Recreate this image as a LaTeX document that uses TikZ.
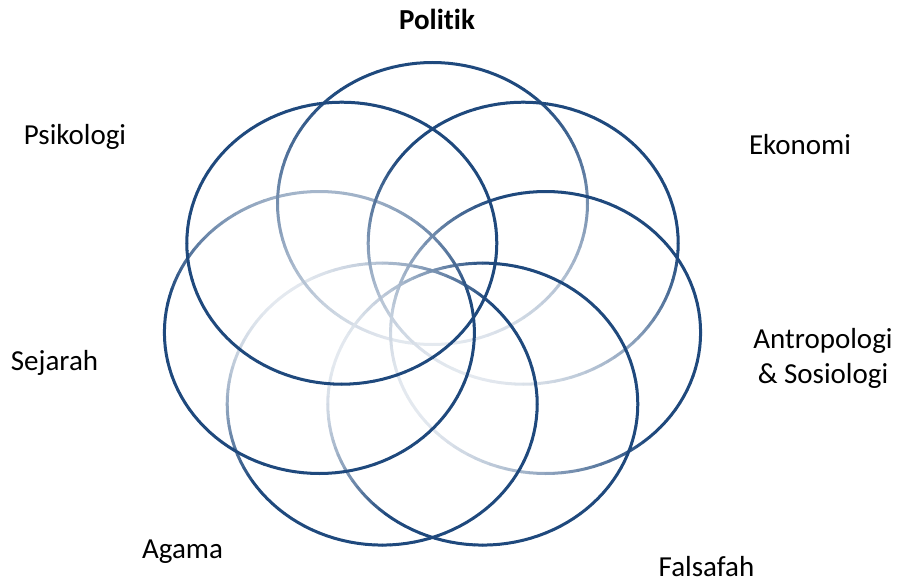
\documentclass[tikz,border=0pt]{standalone}
\usepackage{fontspec}
\setmainfont{Carlito}[Ligatures=NoCommon]
\definecolor{ringblue}{HTML}{1F497D}
\tikzset{
  ringseg/.style={line width=3pt, line cap=round},
  lbl/.style={font=\fontsize{29}{35}\selectfont, inner sep=0pt, anchor=base, text=black},
}
\begin{document}
\begin{tikzpicture}[x=1pt,y=-1pt]
\useasboundingbox (0,0) rectangle (897,583);
% ellipses: centre x / centre y / dark-side angle / start of fade / faintest mix
\foreach \bn in {1,...,10}{
  \foreach \cx/\cy/\ph/\pz/\mn in {
      432.5/203.5/90/0.8/12,    % Politik
      523.2/243.2/70/0.3/12,    % Ekonomi
      545.6/332.5/30/0.2/12,    % Antropologi
      482.8/404.1/-20/-0.3/12,  % Falsafah
      382.2/404.1/-50/-0.1/12,  % Agama
      319.4/332.5/-90/-0.25/40, % Sejarah
      341.8/243.2/150/0/100}{   % Psikologi
    \foreach \t in {0,3,...,357}{
      \pgfmathsetmacro\pp{cos(\t+1.5-(\ph))}
      \pgfmathsetmacro\mm{min(100,\mn+(100-\mn)*(\pp+1)/(\pz+1))}
      \pgfmathtruncatemacro\bb{min(10,max(1,ceil(\mm/10)))}
      \ifnum\bb=\bn
        \draw[ringseg, draw=ringblue!\mm!white]
          ({\cx+155*cos(\t)},{\cy-141*sin(\t)}) -- ({\cx+155*cos(\t+3)},{\cy-141*sin(\t+3)});
      \fi
    }
  }
}
\node[lbl, font=\fontsize{29}{35}\selectfont\bfseries] (politik) at (437,30) {Politik};
\node[lbl] (psikologi) at (75,145) {Psikologi};
\node[lbl] (ekonomi) at (800,155) {Ekonomi};
\node[lbl] (antropologi) at (823,348) {\begin{tabular}[t]{@{}c@{}}Antropologi\\\& Sosiologi\end{tabular}};
\node[lbl] (sejarah) at (54.5,370) {Sejarah};
\node[lbl] (agama) at (182.5,558) {Agama};
\node[lbl] (falsafah) at (706.5,576) {Falsafah};
\end{tikzpicture}
\end{document}
